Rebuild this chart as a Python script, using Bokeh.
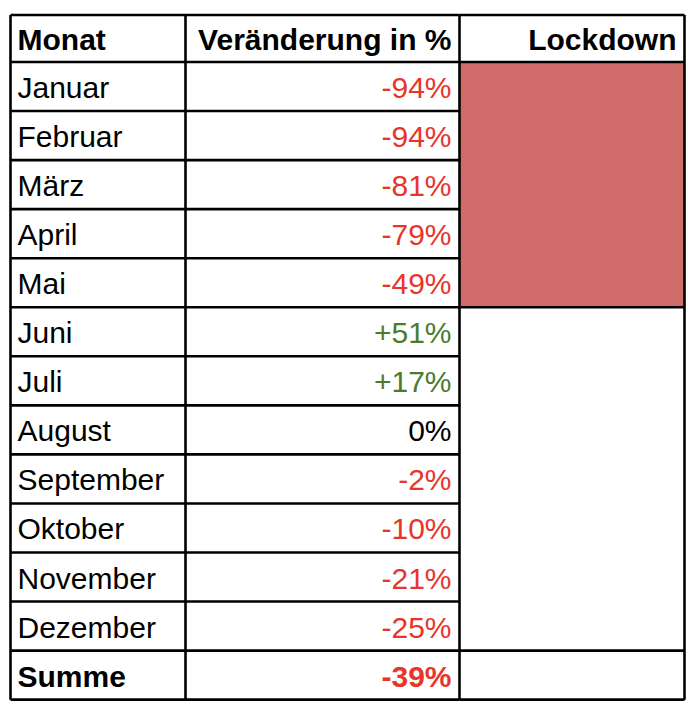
from bokeh.plotting import figure
from bokeh.models import Range1d, ColumnDataSource
from bokeh.core.properties import value
from bokeh.embed import file_html
from bokeh.resources import INLINE

# ---- data ----
headers = ["Monat", "Veränderung in %", "Lockdown"]
months = ["Januar", "Februar", "März", "April", "Mai", "Juni", "Juli", "August",
          "September", "Oktober", "November", "Dezember"]
changes = [-94, -94, -81, -79, -49, 51, 17, 0, -2, -10, -21, -25]
lockdown = [True, True, True, True, True, False, False, False, False, False, False, False]
total_label = "Summe"
total_change = -39

# ---- layout ----
LEFT, C1, C2, RIGHT = 10, 185, 459, 684
TOP, HEAD_BOT = 14.5, 61.5
ROW_H = 49.05
FONT = "Liberation Sans"
FS = "30px"
RED, GREEN, BLACK = "#e8352b", "#4a7c2c", "#000000"
LOCK_FILL = "#cf6b69"


def fmt(v):
    return ("+%d%%" % v) if v > 0 else ("%d%%" % v)


def col(v):
    return GREEN if v > 0 else (RED if v < 0 else BLACK)


labels = months + [total_label]
vals = changes + [total_change]
n = len(labels)
row_top = [HEAD_BOT + i * ROW_H for i in range(n)]
row_mid = [t + ROW_H / 2 + 1 for t in row_top]
BOTTOM = HEAD_BOT + n * ROW_H

p = figure(width=690, height=706, output_backend="svg", toolbar_location=None,
           x_range=Range1d(0, 690), y_range=Range1d(706, 0), min_border=0)
p.axis.visible = False
p.grid.visible = False
p.outline_line_color = None
p.background_fill_color = "white"

# lockdown block
lk = [i for i, f in enumerate(lockdown) if f]
p.quad(left=C2, right=RIGHT, top=row_top[lk[0]], bottom=row_top[lk[-1]] + ROW_H,
       fill_color=LOCK_FILL, line_color=None)

# grid lines
x0, y0, x1, y1 = [], [], [], []
for i in range(n + 1):
    y = HEAD_BOT + i * ROW_H
    x0.append(LEFT); x1.append(C2); y0.append(y); y1.append(y)
lock_end = row_top[lk[-1]] + ROW_H
for y in [TOP, HEAD_BOT, lock_end, row_top[n - 1], BOTTOM]:
    x0.append(C2); x1.append(RIGHT); y0.append(y); y1.append(y)
x0.append(LEFT); x1.append(C2); y0.append(TOP); y1.append(TOP)
for x in [LEFT, C1, C2, RIGHT]:
    x0.append(x); x1.append(x); y0.append(TOP); y1.append(BOTTOM)
p.segment(x0=x0, y0=y0, x1=x1, y1=y1, line_color="black", line_width=2.6)

# header
hy = (TOP + HEAD_BOT) / 2 + 1
p.text(x=[17], y=[hy], text=[headers[0]], text_font=value(FONT), text_font_size=FS,
       text_font_style="bold", text_baseline="middle", text_align="left")
p.text(x=[451, 676], y=[hy, hy], text=headers[1:], text_font=value(FONT), text_font_size=FS,
       text_font_style="bold", text_baseline="middle", text_align="right")

# body
styles = ["normal"] * len(months) + ["bold"]
src = ColumnDataSource(dict(y=row_mid, label=labels, val=[fmt(v) for v in vals],
                            color=[col(v) for v in vals], style=styles))
p.text(x=17, y="y", text="label", source=src, text_font=value(FONT), text_font_size=FS,
       text_font_style="style", text_baseline="middle", text_align="left", text_color="black")
p.text(x=451, y="y", text="val", source=src, text_font=value(FONT), text_font_size=FS,
       text_font_style="style", text_baseline="middle", text_align="right", text_color="color")

open("out.html", "w").write(file_html(p, INLINE))
